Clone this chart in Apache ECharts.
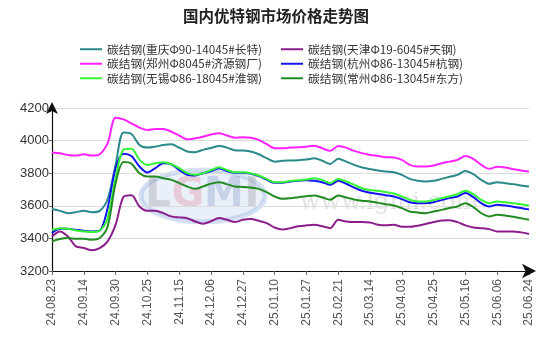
<!DOCTYPE html>
<html>
<head>
<meta charset="utf-8">
<script src="https://cdn.jsdelivr.net/npm/echarts@6/dist/echarts.min.js"></script>
<style>
html,body{margin:0;padding:0;background:#fff;}
#chart{width:554px;height:345px;}
</style>
</head>
<body>
<div id="chart"></div>
<script>
const tickDates = ['24.08.23','24.09.14','24.09.30','24.10.25','24.11.15','24.12.06','24.12.27','25.01.10','25.01.27','25.02.21','25.03.14','25.04.03','25.04.25','25.05.16','25.06.06','25.06.24'];
const pointsPerTick = 4;

const seriesNames = ['碳结钢(重庆Φ90-14045#长特)','碳结钢(天津Φ19-6045#天钢)','碳结钢(郑州Φ8045#济源钢厂)','碳结钢(杭州Φ86-13045#杭钢)','碳结钢(无锡Φ86-18045#淮钢)','碳结钢(常州Φ86-13045#东方)'];

const chongqing = [3580,3569,3555,3561,3569,3561,3569,3640,3851,4050,4040,3973,3957,3963,3973,3977,3957,3933,3929,3943,3955,
  3967,3957,3941,3939,3933,3916,3892,3871,3876,3878,3880,3884,3892,3876,3857,3888,3871,3851,3835,3825,
  3816,3810,3806,3790,3765,3753,3749,3753,3765,3778,3790,3814,3794,3759,3735,3745,3739,3733,3724,3718];
const tianjin = [3412,3443,3412,3351,3341,3327,3341,3382,3484,3655,3665,3596,3569,3569,3555,3535,3529,3524,3504,3490,3505,
  3525,3514,3500,3514,3519,3508,3494,3467,3455,3463,3474,3480,3484,3474,3463,3514,3504,3500,3500,3497,
  3484,3480,3484,3471,3471,3478,3488,3500,3510,3512,3500,3480,3467,3463,3457,3443,3443,3443,3437,3427];
const zhengzhou = [3927,3922,3912,3908,3916,3908,3916,3984,4140,4130,4106,4080,4065,4071,4071,4055,4031,4008,4014,4024,4037,
  4045,4031,4018,4020,4018,4004,3978,3953,3953,3957,3959,3963,3969,3953,3937,3967,3957,3937,3923,3912,
  3906,3898,3896,3882,3851,3841,3841,3847,3861,3871,3882,3906,3888,3851,3827,3839,3835,3825,3816,3810];
const hangzhou = [3433,3459,3459,3453,3447,3443,3447,3586,3831,3920,3905,3841,3804,3831,3861,3855,3820,3790,3786,3800,3812,
  3831,3814,3802,3802,3796,3782,3761,3741,3741,3749,3753,3757,3753,3745,3729,3753,3735,3712,3692,3680,
  3673,3665,3657,3641,3622,3616,3616,3622,3635,3647,3657,3678,3653,3616,3596,3606,3602,3594,3586,3578];
const wuxi = [3453,3463,3459,3449,3443,3439,3447,3525,3769,3945,3950,3882,3851,3861,3867,3855,3831,3800,3790,3800,3818,
  3837,3820,3806,3806,3800,3786,3765,3745,3745,3753,3757,3761,3769,3759,3739,3765,3749,3729,3708,3697,
  3692,3684,3676,3657,3637,3627,3627,3635,3647,3659,3671,3692,3671,3637,3616,3627,3622,3616,3610,3602];
const changzhou = [3382,3396,3402,3398,3398,3392,3402,3473,3739,3868,3858,3800,3780,3780,3769,3759,3739,3718,3704,3718,3736,
  3745,3733,3718,3716,3712,3704,3684,3657,3643,3647,3653,3659,3663,3651,3637,3663,3651,3639,3631,3627,
  3618,3610,3602,3586,3565,3559,3555,3565,3575,3586,3596,3616,3592,3555,3535,3545,3541,3533,3524,3514];

const yMin = 3200, yMax = 4200, yStep = 200;

const allValues = [chongqing, tianjin, zhengzhou, hangzhou, wuxi, changzhou];
const colors = ['#2A8A8A','#8B1E8B','#FF22FF','#1414F0','#33F533','#228B22'];

const chart = echarts.init(document.getElementById('chart'), null, {renderer:'canvas'});
const series = allValues.map((vals, k) => ({
  name: seriesNames[k],
  type: 'line',
  data: vals.map((v, i) => [i, v]),
  smooth: 0.3,
  showSymbol: false,
  symbol: 'none',
  lineStyle: {width: 2, color: colors[k]},
  itemStyle: {color: colors[k]},
  z: 3 + k
}));

const legendCommon = {
  orient: 'vertical',
  icon: 'rect',
  itemWidth: 22,
  itemHeight: 2,
  itemGap: 0,
  textStyle: {fontSize: 11.7, color: '#333', fontFamily: '"Noto Sans CJK SC", sans-serif', lineHeight: 14.5, padding: [0,0,0,0]},
  top: 37
};

chart.setOption({
  animation: false,
  backgroundColor: '#fff',
  title: {
    text: '国内优特钢市场价格走势图',
    left: 178,
    top: 3,
    textStyle: {fontSize: 15.5, fontWeight: 'bold', color: '#222', fontFamily: '"Noto Sans CJK SC", sans-serif'}
  },
  legend: [
    Object.assign({}, legendCommon, {left: 75, data: [seriesNames[0], seriesNames[2], seriesNames[4]]}),
    Object.assign({}, legendCommon, {left: 276, data: [seriesNames[1], seriesNames[3], seriesNames[5]]})
  ],
  graphic: [
    {type: 'ellipse', shape: {cx: 203, cy: 196, rx: 62, ry: 26}, style: {fill: 'rgba(185,205,235,0.3)', stroke: 'rgba(120,160,215,0.3)', lineWidth: 5}, z: 0},
    {type: 'text', z: 0, style: {text: 'L', x: 158, y: 196, align: 'center', verticalAlign: 'middle', font: 'bold 40px "DejaVu Sans", sans-serif', fill: 'rgba(140,140,140,0.3)'}},
    {type: 'text', z: 0, style: {text: 'G', x: 188, y: 196, align: 'center', verticalAlign: 'middle', font: 'bold 40px "DejaVu Sans", sans-serif', fill: 'rgba(230,120,140,0.3)'}},
    {type: 'text', z: 0, style: {text: 'M', x: 224, y: 196, align: 'center', verticalAlign: 'middle', font: 'bold 40px "DejaVu Sans", sans-serif', fill: 'rgba(120,140,200,0.3)'}},
    {type: 'text', z: 0, style: {text: 'I', x: 252, y: 196, align: 'center', verticalAlign: 'middle', font: 'bold 40px "DejaVu Sans", sans-serif', fill: 'rgba(140,140,140,0.3)'}},
    {type: 'text', z: 0, style: {text: 'www.lgmi.com', x: 300, y: 203, verticalAlign: 'middle', font: '24px "DejaVu Serif", serif', fill: 'rgba(150,150,150,0.28)'}}
  ],
  grid: {left: 52, right: 25, top: 108, bottom: 74, containLabel: false},
  xAxis: {
    type: 'value',
    min: 0,
    max: (tickDates.length - 1) * pointsPerTick,
    interval: pointsPerTick,
    axisLine: {show: true, symbol: ['none', 'arrow'], symbolSize: [11, 14], symbolOffset: [0, 7], lineStyle: {color: '#111', width: 1.2}},
    axisTick: {show: true, length: 4, lineStyle: {color: '#666'}},
    axisLabel: {
      rotate: 90, margin: 8, fontSize: 12, color: '#555', fontFamily: '"Liberation Sans", Arial, sans-serif',
      formatter: v => tickDates[Math.round(v / pointsPerTick)] || ''
    },
    splitLine: {show: false}
  },
  yAxis: {
    type: 'value',
    min: yMin, max: yMax, interval: yStep,
    axisLine: {show: true, symbol: ['none', 'arrow'], symbolSize: [9, 12], symbolOffset: [0, 6], lineStyle: {color: '#111', width: 1.2}},
    axisTick: {show: true, length: 3, lineStyle: {color: '#666'}},
    axisLabel: {margin: 3, fontSize: 13, color: '#333', fontFamily: '"Liberation Sans", Arial, sans-serif', formatter: v => String(v)},
    splitLine: {show: true, lineStyle: {color: '#dcdcdc', width: 1}}
  },
  series: series
});
</script>
</body>
</html>
